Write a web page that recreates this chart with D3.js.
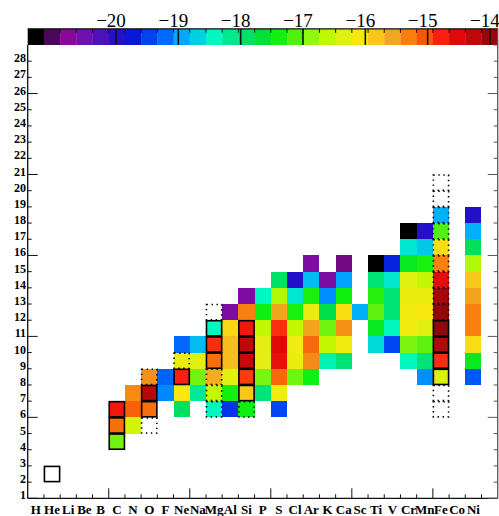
<!DOCTYPE html>
<html><head><meta charset="utf-8">
<script src="https://cdn.jsdelivr.net/npm/d3@7"></script>
<style>body{margin:0;background:#fff}svg{display:block}</style>
</head><body><div id="chart"></div>
<script>
const elements = ["H","He","Li","Be","B","C","N","O","F","Ne","Na","Mg","Al","Si","P","S","Cl","Ar","K","Ca","Sc","Ti","V","Cr","Mn","Fe","Co","Ni"];
const yTickValues = d3.range(1, 29);
const cbTickValues = [-20, -19, -18, -17, -16, -15, -14];
const cbDomain = [-21.417, -13.876];
// colour table stops (log value -> colour)
const stopValues = [-21.29,-21.03,-20.77,-20.51,-20.25,-19.99,-19.73,-19.47,-19.21,-18.95,-18.69,-18.43,-18.17,-17.91,-17.65,-17.39,-17.13,-16.87,-16.61,-16.35,-16.09,-15.83,-15.57,-15.31,-15.05,-14.79,-14.53,-14.27,-14.01,-13.88];
const stopColors = ["#000000","#4a0858","#880898","#7010b0","#5010b8","#2810c8","#0818d8","#0040f0","#0068ff","#00a8ff","#00d0e0","#00f8c0","#00e890","#00e068","#00e038","#10f010","#50f010","#90f810","#c0f800","#e0f010","#f8e810","#f8c818","#f0a820","#f88010","#f85808","#f82010","#e00808","#c00808","#980808","#880808"];
// element, first stage, values (bottom to top)
const runs = [
  ["C", 4, [-17.0, -15.2, -14.7]],
  ["N", 5, [-16.45, -15.1, -15.38]],
  ["O", 6, [-15.2, -14.2, -15.42]],
  ["F", 7, [-19.08, -19.25]],
  ["Ne", 6, [-17.85, -16.09, -14.79, -16.25, -19.21]],
  ["Na", 7, [-18.2, -17.0, -16.35, -18.82]],
  ["Mg", 6, [-18.43, -16.58, -15.62, -15.2, -14.86, -18.43]],
  ["Al", 6, [-19.55, -17.38, -16.35, -15.75, -15.75, -15.95, -20.65]],
  ["Si", 6, [-17.4, -15.83, -14.93, -14.33, -14.27, -14.7, -15.31, -20.65]],
  ["P", 7, [-18.0, -16.95, -16.3, -16.3, -16.58, -17.4, -18.43]],
  ["S", 6, [-19.43, -16.18, -15.15, -14.62, -14.53, -14.86, -15.55, -16.7, -17.91]],
  ["Cl", 8, [-17.0, -16.25, -16.18, -16.58, -17.35, -18.55, -19.95]],
  ["Ar", 8, [-17.4, -15.38, -15.15, -15.55, -16.25, -17.35, -18.82, -20.65]],
  ["K", 9, [-18.35, -16.58, -17.0, -17.75, -19.05, -20.65]],
  ["Ca", 9, [-18.0, -16.18, -15.42, -16.0, -17.38, -18.98, -20.85]],
  ["Sc", 12, [-18.9]],
  ["Ti", 10, [-18.62, -17.5, -17.07, -17.3, -18.0, -21.29]],
  ["V", 10, [-19.43, -18.43, -18.0, -18.0, -18.55, -19.65]],
  ["Cr", 9, [-18.43, -16.95, -16.18, -16.18, -16.25, -16.35, -17.5, -18.55, -21.29]],
  ["Mn", 8, [-19.05, -18.0, -17.07, -16.35, -16.09, -16.25, -16.58, -17.35, -18.74, -19.95]],
  ["Fe", 8, [-16.38, -14.86, -14.2, -13.95, -13.95, -14.1, -14.58, -15.31, -16.0, -17.13, -18.9]],
  ["Ni", 8, [-19.32, -17.5, -16.0, -15.31, -15.31, -15.55, -15.83, -16.7, -17.85, -18.9, -19.95]]
];
const solidBoxes = [["He",2],["C",4],["C",5],["C",6],["O",6],["O",7],["Ne",8],["Mg",9],["Mg",10],["Mg",11],["Si",7],["Si",8],["Si",9],["Si",10],["Si",11],["Fe",8],["Fe",9],["Fe",10],["Fe",11]];
const dottedBoxes = [["O",5],["O",8],["Ne",9],["Mg",6],["Mg",7],["Mg",8],["Mg",12],["Si",6],["Fe",6],["Fe",7],["Fe",12],["Fe",13],["Fe",14],["Fe",15],["Fe",16],["Fe",17],["Fe",18],["Fe",19],["Fe",20]];

const W = 499, H = 516;
const svg = d3.select("#chart").append("svg").attr("width", W).attr("height", H);
const x = d3.scaleLinear().domain([1, 30]).range([27.7, 497.7]);
const y = d3.scaleLinear().domain([1, 30]).range([498.3, 28.8]);
const cb = d3.scaleLinear().domain(cbDomain).range([27.7, 497.7]);
const color = d3.scaleLinear().domain(stopValues).range(stopColors).clamp(true);
const zOf = e => elements.indexOf(e) + 1;

// cells
const cells = [];
runs.forEach(([e, s, vals]) => vals.forEach((v, i) => cells.push({z: zOf(e), s: s + i, v})));
svg.append("g").selectAll("rect").data(cells).join("rect")
  .attr("x", d => x(d.z)).attr("y", d => y(d.s + 1))
  .attr("width", d => x(d.z + 1) - x(d.z)).attr("height", d => y(d.s) - y(d.s + 1))
  .attr("fill", d => color(d.v)).attr("shape-rendering", "crispEdges");

// boxes
const inset = 0.5;
function boxes(list, dashed) {
  const sel = svg.append("g").selectAll("rect").data(list).join("rect")
    .attr("x", d => x(zOf(d[0])) + inset).attr("y", d => y(d[1] + 1) + inset)
    .attr("width", d => x(zOf(d[0]) + 1) - x(zOf(d[0])) - 2 * inset)
    .attr("height", d => y(d[1]) - y(d[1] + 1) - 2 * inset)
    .attr("fill", "none").attr("stroke", "#000").attr("stroke-width", 1.6);
  if (dashed) sel.attr("stroke-dasharray", "1.4,3.6");
}
boxes(solidBoxes, false);
boxes(dottedBoxes, true);

// colour bar (top row of the grid)
const blocks = d3.range(1, 30);
svg.append("g").selectAll("rect").data(blocks).join("rect")
  .attr("x", d => x(d)).attr("y", y(30))
  .attr("width", d => x(d + 1) - x(d) + 0.3).attr("height", y(29) - y(30))
  .attr("fill", d => color(cb.invert((x(d) + x(d + 1)) / 2)));

const ax = svg.append("g").attr("stroke", "#111").attr("fill", "none");
// frame
ax.append("line").attr("x1", x(1)).attr("x2", x(1)).attr("y1", y(29)).attr("y2", y(1)).attr("stroke-width", 1.3);
ax.append("line").attr("x1", x(1)).attr("x2", x(30)).attr("y1", y(1)).attr("y2", y(1)).attr("stroke-width", 1.3);
ax.append("line").attr("x1", x(30)).attr("x2", x(30)).attr("y1", y(30)).attr("y2", y(1)).attr("stroke-width", 1.3).attr("stroke", "#555");
ax.append("line").attr("x1", x(1)).attr("x2", x(30)).attr("y1", y(30)).attr("y2", y(30)).attr("stroke-width", 1.3);
const isMajor = v => (v - 1) % 5 === 0;
// y ticks
yTickValues.concat([29]).forEach(v => {
  const L = isMajor(v) ? 10 : 4;
  if (v <= 28) ax.append("line").attr("x1", x(1)).attr("x2", x(1) + L).attr("y1", y(v)).attr("y2", y(v));
  ax.append("line").attr("x1", x(30)).attr("x2", x(30) - L).attr("y1", y(v)).attr("y2", y(v)).attr("stroke", "#555");
});
// x ticks
d3.range(2, 30).forEach(v => {
  const L = isMajor(v) ? 10 : 4;
  ax.append("line").attr("x1", x(v)).attr("x2", x(v)).attr("y1", y(1)).attr("y2", y(1) - L);
  ax.append("line").attr("x1", x(v)).attr("x2", x(v)).attr("y1", y(30)).attr("y2", y(30) + 4);
});
// colour bar value ticks
cbTickValues.forEach(v => {
  ax.append("line").attr("x1", cb(v)).attr("x2", cb(v)).attr("y1", y(30)).attr("y2", y(29)).attr("stroke-width", 1.6);
});

// labels
svg.append("g").selectAll("text").data(yTickValues).join("text")
  .attr("x", 26).attr("y", d => y(d) + 1).attr("text-anchor", "end")
  .attr("font-family", "Liberation Serif").attr("font-weight", "bold").attr("font-size", 12)
  .text(d => d);
svg.append("g").selectAll("text").data(elements).join("text")
  .attr("x", (d, i) => (x(i + 1) + x(i + 2)) / 2).attr("y", 514).attr("text-anchor", "middle")
  .attr("font-family", "Liberation Serif").attr("font-weight", "bold").attr("font-size", 13)
  .text(d => d);
svg.append("g").selectAll("text").data(cbTickValues).join("text")
  .attr("x", d => cb(d) - 5).attr("y", 27).attr("text-anchor", "middle")
  .attr("font-family", "Liberation Serif").attr("font-size", 19)
  .text(d => "\u2212" + Math.abs(d));
</script></body></html>
